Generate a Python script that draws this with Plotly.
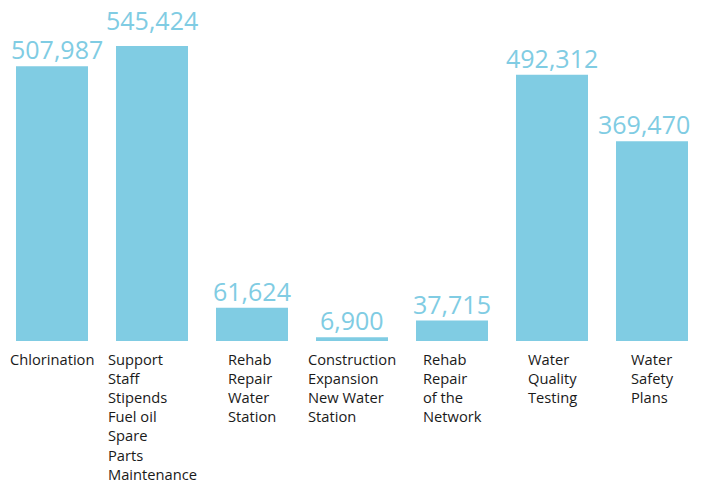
import plotly.graph_objects as go


# ==========================================================
# DATA
# ==========================================================

categories = [
    "Chlorination",
    "Support<br>Staff<br>Stipends<br>Fuel oil<br>Spare<br>Parts<br>Maintenance",
    "Rehab<br>Repair<br>Water<br>Station",
    "Construction<br>Expansion<br>New Water<br>Station",
    "Rehab<br>Repair<br>of the<br>Network",
    "Water<br>Quality<br>Testing",
    "Water<br>Safety<br>Plans",
]

values = [507987, 545424, 61624, 6900, 37715, 492312, 369470]

BAR_COLOR = "#80CCE3"
FONT = "Open Sans"

# small nudges of the value labels, as in the original
label_lift = [0, 9, 0, 0, 0, 0, 0]
label_nudge = [5, 0, 0, 0, 0, 0, -8]


# ==========================================================
# BAR CHART
# ==========================================================

fig = go.Figure()

fig.add_trace(
    go.Bar(
        x=list(range(len(values))),
        y=values,
        marker=dict(color=BAR_COLOR, line=dict(width=0)),
        hoverinfo="skip",
    )
)

# value labels above bars
for i, v in enumerate(values):
    fig.add_annotation(
        x=i,
        y=v,
        xref="x",
        yref="y",
        text=f"{v:,}",
        showarrow=False,
        xanchor="center",
        yanchor="bottom",
        xshift=label_nudge[i],
        yshift=label_lift[i] - 2,
        font=dict(family=FONT, size=25, color=BAR_COLOR),
    )

# category labels, left aligned inside a centred block
for i, label in enumerate(categories):
    fig.add_annotation(
        x=i,
        y=0,
        xref="x",
        yref="paper",
        text=label,
        showarrow=False,
        xanchor="center",
        yanchor="top",
        align="left",
        yshift=-6,
        font=dict(family=FONT, size=14.7, color="#1a1a1a"),
    )

# page body has an 8px margin, so the figure is a bit smaller
fig.update_layout(
    width=693,
    height=474,
    margin=dict(l=0, r=0, t=0, b=141),
    plot_bgcolor="white",
    paper_bgcolor="white",
    bargap=0.28,
    showlegend=False,
    xaxis=dict(
        range=[-0.44, 6.49],
        showticklabels=False,
        showgrid=False,
        zeroline=False,
        showline=False,
        ticks="",
    ),
    yaxis=dict(
        range=[0, 615700],
        visible=False,
        showgrid=False,
        zeroline=False,
    ),
)

fig.write_html("out.html")
